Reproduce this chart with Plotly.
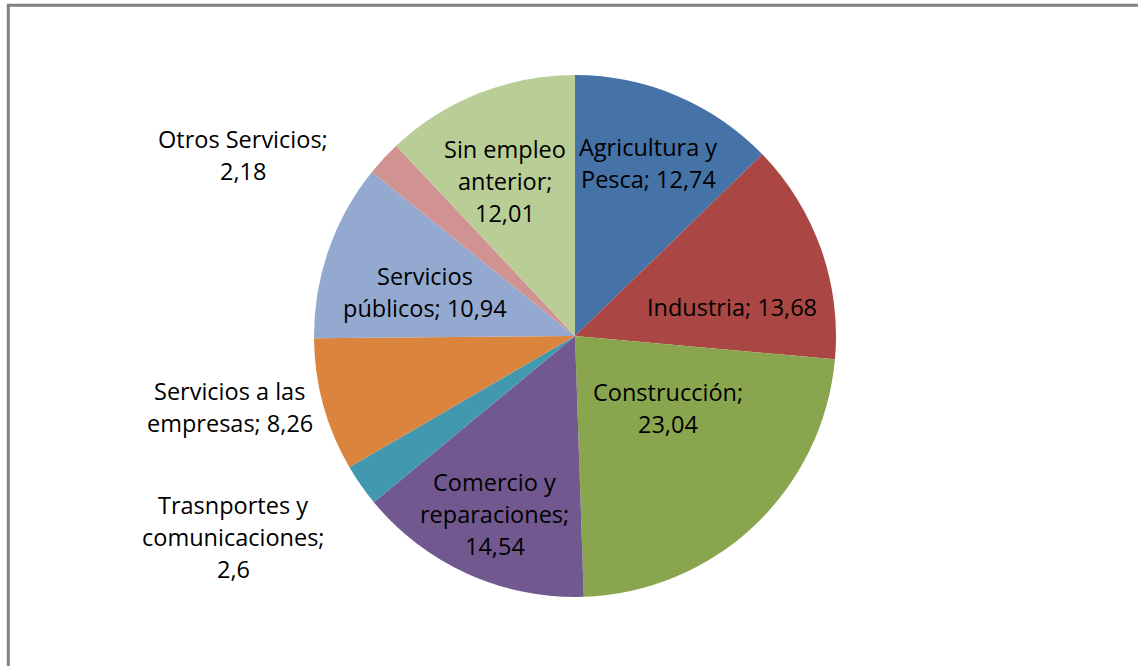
import math
import plotly.graph_objects as go

# ---- data ----
categories = ["Agricultura y Pesca", "Industria", "Construcción", "Comercio y reparaciones",
              "Trasnportes y comunicaciones", "Servicios a las empresas", "Servicios públicos",
              "Otros Servicios", "Sin empleo anterior"]
values = [12.74, 13.68, 23.04, 14.54, 2.6, 8.26, 10.94, 2.18, 12.01]
value_labels = ["12,74", "13,68", "23,04", "14,54", "2,6", "8,26", "10,94", "2,18", "12,01"]
# how each data label is broken into lines (text only)
label_lines = [
    ["Agricultura y", "Pesca; {v}"],
    ["Industria; {v}"],
    ["Construcción;", "{v}"],
    ["Comercio y", "reparaciones;", "{v}"],
    ["Trasnportes y", "comunicaciones;", "{v}"],
    ["Servicios a las", "empresas; {v}"],
    ["Servicios", "públicos; {v}"],
    ["Otros Servicios;", "{v}"],
    ["Sin empleo", "anterior;", "{v}"],
]

# ---- styles ----
colors = ["#4572A7", "#AA4643", "#89A54E", "#71588F", "#4198AF",
          "#DB843D", "#93A9CF", "#D19392", "#B9CD96"]
# label placement: (radius fraction, angle offset in degrees) relative to slice mid-angle
label_place = [(0.72, 0), (0.61, 9), (0.45, -8.8), (0.75, 0), (1.52, 4.4),
               (1.35, 3.8), (0.60, -3), (1.45, -14.2), (0.65, -2.7)]

W, H = 1138, 666
CX, CY, R = 575, 336, 261
FONT = "Open Sans"
FS = 23.5
LINE_H = 32

fig = go.Figure(go.Pie(
    labels=categories, values=values, sort=False, direction="clockwise", rotation=0,
    marker=dict(colors=colors, line=dict(width=0)),
    textinfo="none", hoverinfo="label+value", showlegend=False,
    domain=dict(x=[(CX - R) / W, (CX + R) / W], y=[1 - (CY + R) / H, 1 - (CY - R) / H]),
))

total = sum(values)
cum = 0.0
annotations = []
for i, v in enumerate(values):
    mid = (cum + v / 2) / total * 360.0
    cum += v
    f, off = label_place[i]
    ang = math.radians(mid + off)
    px = CX + f * R * math.sin(ang)
    py = CY - f * R * math.cos(ang)
    lines = [s.format(v=value_labels[i]) for s in label_lines[i]]
    n = len(lines)
    for j, line in enumerate(lines):
        annotations.append(dict(
            x=px / W, y=1 - py / H, xref="paper", yref="paper",
            text=line, showarrow=False, xanchor="center", yanchor="middle",
            yshift=((n - 1) / 2 - j) * LINE_H,
            font=dict(family=FONT, size=FS, color="#000000"),
        ))

fig.update_layout(
    width=W, height=H, margin=dict(l=0, r=0, t=0, b=0),
    paper_bgcolor="white", plot_bgcolor="white",
    annotations=annotations,
    shapes=[dict(type="rect", xref="paper", yref="paper",
                 x0=8.3 / W, x1=1.2, y0=-0.2, y1=1 - 5.3 / H,
                 line=dict(color="#808080", width=3), fillcolor="rgba(0,0,0,0)")],
)

fig.write_html("out.html", config={"displayModeBar": False},
               post_script="document.body.style.margin='0';")
